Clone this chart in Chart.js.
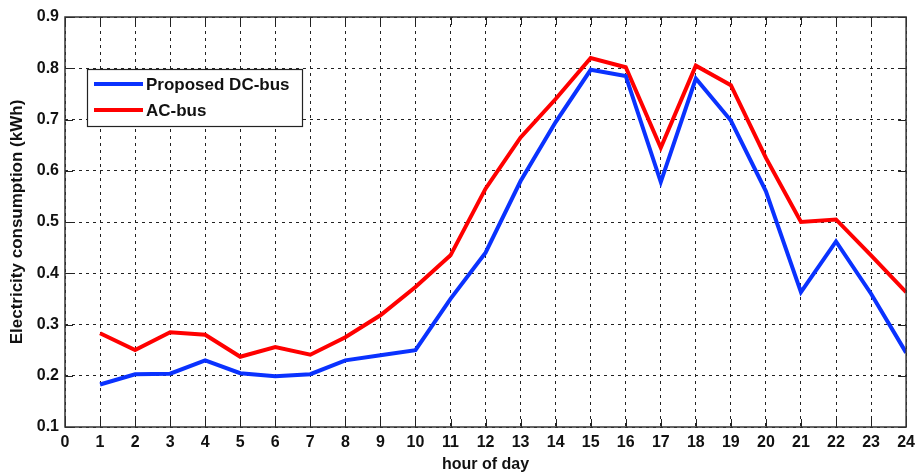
<!DOCTYPE html>
<html>
<head>
<meta charset="utf-8">
<script src="https://cdn.jsdelivr.net/npm/chart.js@4"></script>
<style>
html,body{margin:0;padding:0;background:#fff;}
#wrap{width:921px;height:475px;position:relative;}
</style>
</head>
<body>
<div id="wrap"><canvas id="c" width="921" height="475"></canvas></div>
<script>
const hours = [1,2,3,4,5,6,7,8,9,10,11,12,13,14,15,16,17,18,19,20,21,22,23,24];
const dcBus = [0.183,0.203,0.204,0.230,0.205,0.199,0.203,0.230,0.240,0.250,0.350,0.440,0.580,0.695,0.797,0.785,0.578,0.780,0.698,0.560,0.363,0.462,0.360,0.245];
const acBus = [0.283,0.250,0.285,0.280,0.237,0.256,0.241,0.275,0.318,0.373,0.435,0.565,0.665,0.740,0.820,0.802,0.645,0.805,0.767,0.625,0.500,0.505,0.435,0.363];
const seriesLabels = ["Proposed DC-bus","AC-bus"];
const seriesColors = ["#0a32ff","#ff0000"];
const xTitle = "hour of day";
const yTitle = "Electricity consumption (kWh)";

const FONT = "'Liberation Sans', Arial, sans-serif";

const framePlugin = {
  id: 'frame',
  afterDraw(chart) {
    const {ctx, chartArea: a, scales} = chart;
    ctx.save();
    // inward ticks
    ctx.strokeStyle = '#222';
    ctx.lineWidth = 1;
    ctx.beginPath();
    for (let v = 0; v <= 24; v++) {
      const x = Math.round(scales.x.getPixelForValue(v)) + 0.5;
      ctx.moveTo(x, a.bottom); ctx.lineTo(x, a.bottom - 8);
      ctx.moveTo(x, a.top); ctx.lineTo(x, a.top + 8);
    }
    for (let i = 1; i <= 9; i++) {
      const y = Math.round(scales.y.getPixelForValue(i / 10)) + 0.5;
      ctx.moveTo(a.left, y); ctx.lineTo(a.left + 8, y);
      ctx.moveTo(a.right, y); ctx.lineTo(a.right - 8, y);
    }
    ctx.stroke();
    ctx.strokeStyle = '#333';
    ctx.lineWidth = 1.5;
    ctx.strokeRect(a.left, a.top, a.right - a.left, a.bottom - a.top);
    // legend
    const lx = 87, ly = 69, lw = 215, lh = 57;
    ctx.fillStyle = '#fff';
    ctx.fillRect(lx, ly, lw, lh);
    ctx.strokeStyle = '#222';
    ctx.lineWidth = 1.2;
    ctx.strokeRect(lx + 0.5, ly + 0.5, lw, lh);
    ctx.font = "bold 17px " + FONT;
    ctx.textBaseline = 'middle';
    ctx.textAlign = 'left';
    chart.data.datasets.forEach((ds, i) => {
      const y = ly + 15 + i * 26;
      ctx.strokeStyle = ds.borderColor;
      ctx.lineWidth = 4;
      ctx.beginPath();
      ctx.moveTo(94, y); ctx.lineTo(143, y);
      ctx.stroke();
      ctx.fillStyle = '#111';
      ctx.fillText(ds.label, 146, y + 1);
    });
    ctx.restore();
  }
};

new Chart(document.getElementById('c'), {
  type: 'line',
  data: {
    datasets: [
      { label: seriesLabels[0], data: hours.map((h, i) => ({x: h, y: dcBus[i]})), borderColor: seriesColors[0], borderWidth: 4, pointRadius: 0, tension: 0, fill: false },
      { label: seriesLabels[1], data: hours.map((h, i) => ({x: h, y: acBus[i]})), borderColor: seriesColors[1], borderWidth: 4, pointRadius: 0, tension: 0, fill: false }
    ]
  },
  options: {
    responsive: false,
    animation: false,
    layout: { padding: { top: 17, right: 11, left: 0, bottom: 0 } },
    plugins: { legend: { display: false }, tooltip: { enabled: false } },
    scales: {
      x: {
        type: 'linear', min: 0, max: 24,
        ticks: { stepSize: 1, color: '#111', font: { family: FONT, size: 16, weight: 'bold' }, padding: 6, maxRotation: 0, autoSkip: false },
        grid: { color: '#222', lineWidth: 1, drawTicks: false, tickLength: 0 },
        border: { display: false, dash: [3,4] },
        title: { display: true, text: xTitle, color: '#111', font: { family: FONT, size: 16, weight: 'bold' }, padding: { top: 0, bottom: 1 } },
        afterFit(s) { s.height = 48; }
      },
      y: {
        min: 0.1, max: 0.9,
        ticks: { stepSize: 0.1, color: '#111', font: { family: FONT, size: 16, weight: 'bold' }, padding: 6, callback: v => v.toFixed(1) },
        grid: { color: '#222', lineWidth: 1, drawTicks: false, tickLength: 0 },
        border: { display: false, dash: [3,4] },
        title: { display: true, text: yTitle, color: '#111', font: { family: FONT, size: 17, weight: 'bold' }, padding: { top: 7, bottom: 0 } },
        afterFit(s) { s.width = 65; }
      }
    }
  },
  plugins: [framePlugin]
});
</script>
</body>
</html>
